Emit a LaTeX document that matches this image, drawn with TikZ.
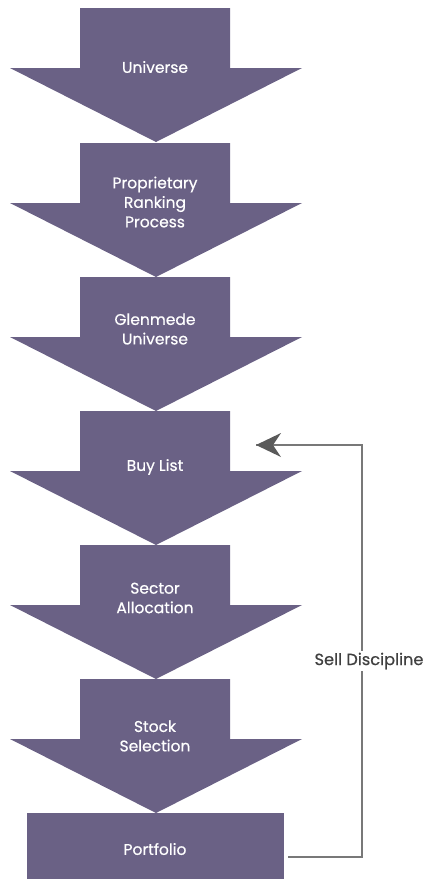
\documentclass[tikz,border=0pt]{standalone}
\usepackage{fontspec}
\setmainfont{Poppins}
\newfontfamily\stepfont[FakeBold=0.5]{Poppins}
\usetikzlibrary{arrows.meta}
\definecolor{stepfill}{RGB}{106,97,133}
\definecolor{linegray}{RGB}{120,120,120}
\definecolor{tipgray}{RGB}{90,90,90}
\tikzset{
  stepshape/.style={fill=stepfill, draw=none},
  steptext/.style={text=white, font=\stepfont\fontsize{15.5}{19.5}\selectfont, align=center, inner sep=0pt},
  fbline/.style={draw=linegray, line width=1.4pt},
  fblabel/.style={text=black!75, font=\stepfont\fontsize{16.2}{18}\selectfont, fill=white, inner sep=2pt}
}
\newcommand{\downarrowshape}[1]{%
  \fill[stepshape] (80,#1) -- (230,#1) -- (230,#1+60) -- (302,#1+60) -- (156,#1+134) -- (10,#1+60) -- (80,#1+60) -- cycle;}
\begin{document}
\begin{tikzpicture}[x=1pt,y=-1pt]
\useasboundingbox (0,0) rectangle (427,879);
\downarrowshape{8}
\downarrowshape{143}
\downarrowshape{277}
\downarrowshape{411}
\downarrowshape{545}
\downarrowshape{679}
\fill[stepshape] (27,813) rectangle (284,879);
\node[steptext] (universe) at (155,67) {Universe};
\node[steptext] (ranking) at (155,202) {Proprietary\\Ranking\\Process};
\node[steptext] (glenmede) at (155,329) {Glenmede\\Universe};
\node[steptext] (buylist) at (155,467) {Buy List};
\node[steptext] (sector) at (155,598) {Sector\\Allocation};
\node[steptext] (stock) at (155,736) {Stock\\Selection};
\node[steptext] (portfolio) at (155,849) {Portfolio};
\coordinate (fbstart) at (288,857);
\coordinate (fbcorner1) at (362,857);
\coordinate (fbcorner2) at (362,445);
\coordinate (fbend) at (256,445);
\draw[fbline] (fbstart) -- (fbcorner1) -- (fbcorner2) -- (fbend);
\draw[draw=none, fill=tipgray] (fbend) -- (281,433) -- (273,445) -- (281,457) -- cycle;
\node[fblabel] (sell) at (369,661) {Sell Discipline};
\end{tikzpicture}
\end{document}
